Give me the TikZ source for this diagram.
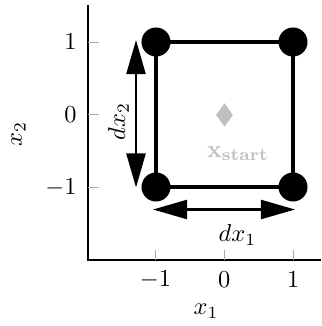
\documentclass[tikz,border=0pt]{standalone}
\usetikzlibrary{arrows.meta,shapes.geometric}
\definecolor{startgray}{RGB}{192,192,192}
\definecolor{tickgray}{RGB}{170,170,170}
\tikzset{
  axisline/.style={line width=0.5pt, black},
  tickmark/.style={line width=0.4pt, tickgray},
  ticklabel/.style={inner sep=0pt, font=\normalsize},
  squareline/.style={line width=2pt, black},
  cornerdot/.style={circle, fill=black, minimum size=11.9pt, inner sep=0pt},
  dimarrow/.style={line width=1pt, {Triangle[length=14pt,width=7.8pt]}-{Triangle[length=14pt,width=7.8pt]}},
  startmark/.style={diamond, fill=startgray, minimum width=7pt, minimum height=9.8pt, inner sep=0pt},
  lbl/.style={inner sep=0pt}
}
\begin{document}
\begin{tikzpicture}[x=0.41pt,y=-0.41pt]
\useasboundingbox (0,0) rectangle (321,326);
% axes
\coordinate (ytop) at (88,5);
\coordinate (origin) at (88,260);
\coordinate (xend) at (321,260);
\draw[axisline] (ytop) -- (origin) -- (xend);
% y ticks
\foreach \yy/\nm in {42/ya, 114.3/yb, 187.3/yc}{
  \coordinate (\nm s) at (88,\yy);
  \coordinate (\nm e) at (99,\yy);
  \draw[tickmark] (\nm s) -- (\nm e);
}
\node[ticklabel, anchor=east] (ylab1) at (77,42) {$1$};
\node[ticklabel, anchor=east] (ylab0) at (77,114.3) {$0$};
\node[ticklabel, anchor=east] (ylabm1) at (77,187.3) {$-1$};
% x ticks
\foreach \xx/\nm in {155.5/xa, 224.3/xb, 293.3/xc}{
  \coordinate (\nm s) at (\xx,260);
  \coordinate (\nm e) at (\xx,250);
  \draw[tickmark] (\nm s) -- (\nm e);
}
\node[ticklabel] (xlabm1) at (155.5,280) {$-1$};
\node[ticklabel] (xlab0) at (224.3,280) {$0$};
\node[ticklabel] (xlab1) at (293.3,280) {$1$};
% axis labels
\node[lbl] (xaxislabel) at (206,311) {$x_1$};
\node[lbl, rotate=90] (yaxislabel) at (18.5,134) {$x_2$};
% square
\coordinate (c1) at (156,42);
\coordinate (c2) at (293,42);
\coordinate (c3) at (293,187);
\coordinate (c4) at (156,187);
\draw[squareline] (c1) -- (c2) -- (c3) -- (c4) -- cycle;
\node[cornerdot] (d1) at (c1) {};
\node[cornerdot] (d2) at (c2) {};
\node[cornerdot] (d3) at (c3) {};
\node[cornerdot] (d4) at (c4) {};
% dimension arrows
\coordinate (v1) at (136,40);
\coordinate (v2) at (136,187.5);
\draw[dimarrow] (v1) -- (v2);
\coordinate (h1) at (153,209.5);
\coordinate (h2) at (295,209.5);
\draw[dimarrow] (h1) -- (h2);
\node[lbl, rotate=90] (dxtwo) at (118.5,121.5) {$dx_2$};
\node[lbl] (dxone) at (237.5,235) {$dx_1$};
% start point
\node[startmark] (start) at (224.5,115) {};
\node[lbl, text=startgray] (startlabel) at (238,153.5) {$\mathbf{x}_{\mathbf{start}}$};
\end{tikzpicture}
\end{document}
